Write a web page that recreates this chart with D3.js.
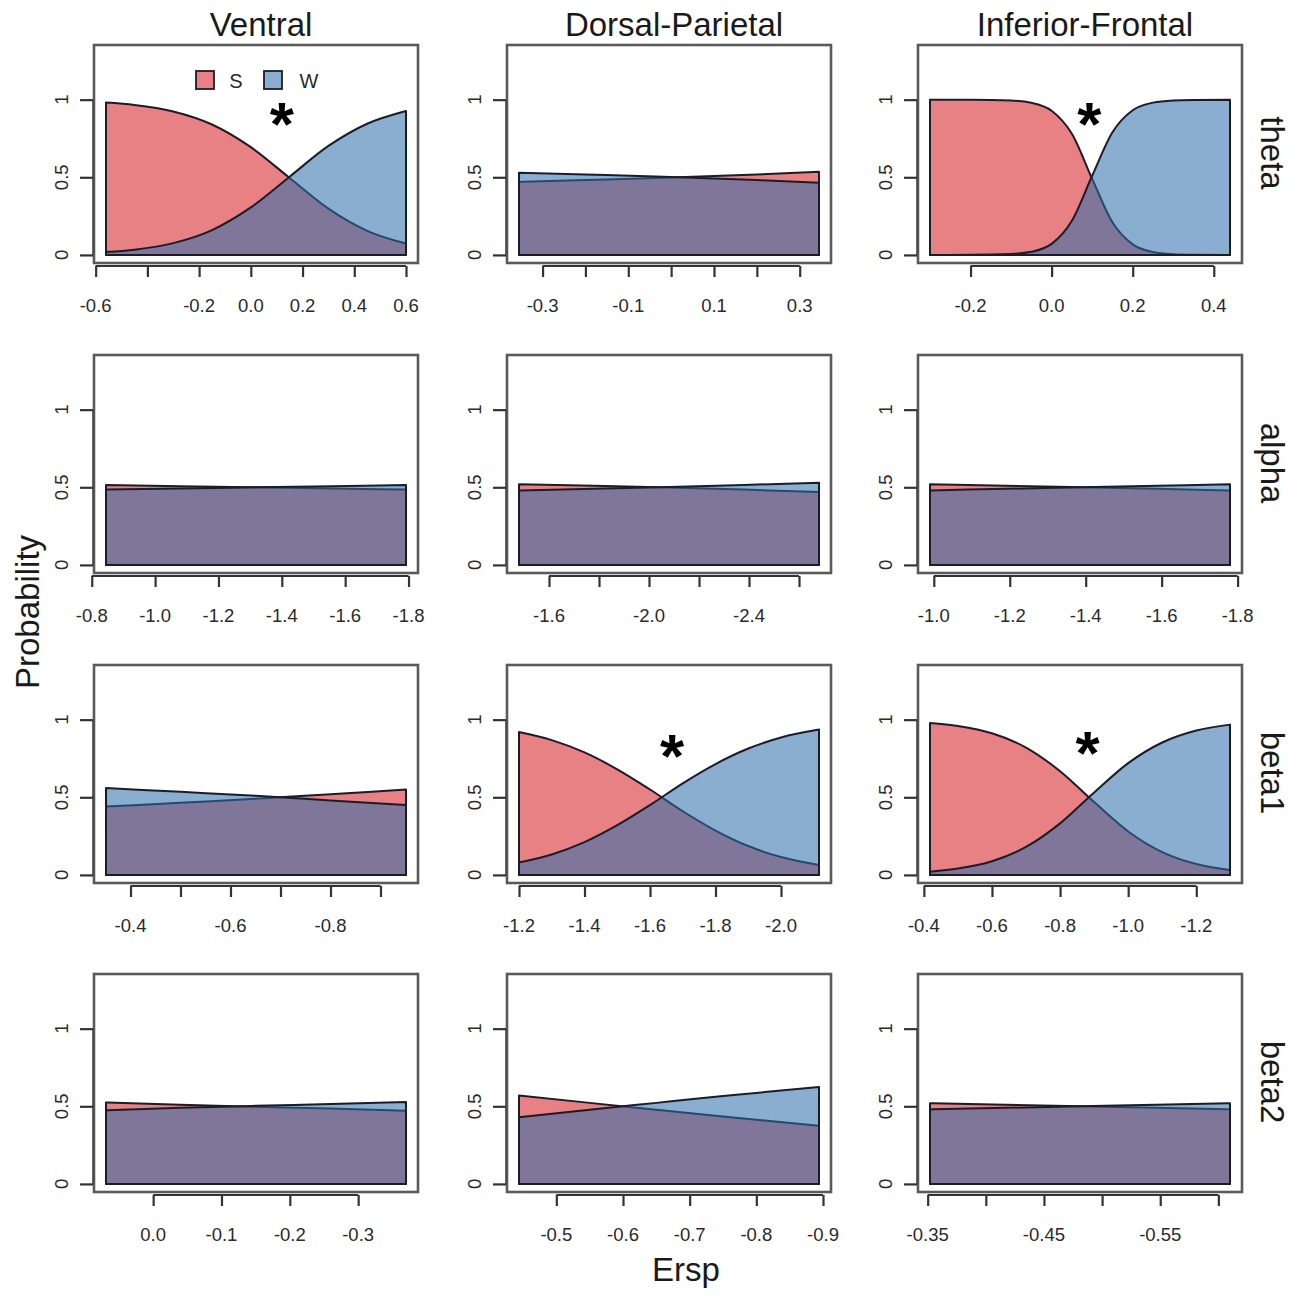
<!DOCTYPE html>
<html><head><meta charset="utf-8">
<script src="https://cdn.jsdelivr.net/npm/d3@7"></script>
<style>body{margin:0;background:#fff}svg{display:block}</style>
</head><body><svg id="c" width="1300" height="1299"></svg>
<script>
// ---- labels ----
const regions = ["Ventral", "Dorsal-Parietal", "Inferior-Frontal"];
const bands = ["theta", "alpha", "beta1", "beta2"];
const legendLabels = ["S", "W"];
const yTicks = [0, 0.5, 1];
const yTickLabels = ["0", "0.5", "1"];

// ---- theta row ----
const xVentralTheta = [-0.56, -0.45, -0.3, -0.15, 0.0, 0.15, 0.3, 0.45, 0.6];
const sVentralTheta = [0.981, 0.966, 0.924, 0.84, 0.694, 0.496, 0.298, 0.155, 0.073];
const wVentralTheta = [0.019, 0.034, 0.076, 0.16, 0.306, 0.504, 0.702, 0.845, 0.927];
const ticksVentralTheta = [-0.6, -0.4, -0.2, 0.0, 0.2, 0.4, 0.6];
const labelsVentralTheta = ["-0.6", "", "-0.2", "0.0", "0.2", "0.4", "0.6"];

const xDorsalTheta = [-0.355, -0.2, 0.0, 0.2, 0.345];
const sDorsalTheta = [0.47, 0.482, 0.498, 0.518, 0.535];
const wDorsalTheta = [0.53, 0.518, 0.502, 0.482, 0.465];
const ticksDorsalTheta = [-0.3, -0.2, -0.1, 0.0, 0.1, 0.2, 0.3];
const labelsDorsalTheta = ["-0.3", "", "-0.1", "", "0.1", "", "0.3"];

const xFrontalTheta = [-0.3, -0.2, -0.1, -0.05, 0.0, 0.05, 0.1, 0.15, 0.2, 0.25, 0.3, 0.35, 0.44];
const sFrontalTheta = [1.0, 0.9996, 0.994, 0.98, 0.929, 0.78, 0.49, 0.21, 0.068, 0.019, 0.005, 0.0015, 0.0001];
const wFrontalTheta = [0.0, 0.0004, 0.006, 0.02, 0.071, 0.22, 0.51, 0.79, 0.932, 0.981, 0.995, 0.9985, 0.9999];
const ticksFrontalTheta = [-0.2, 0.0, 0.2, 0.4];
const labelsFrontalTheta = ["-0.2", "0.0", "0.2", "0.4"];

// ---- alpha row ----
const xVentralAlpha = [-0.845, -1.08, -1.32, -1.56, -1.792];
const sVentralAlpha = [0.515, 0.507, 0.5, 0.493, 0.485];
const wVentralAlpha = [0.485, 0.493, 0.5, 0.507, 0.515];
const ticksVentralAlpha = [-0.8, -1.0, -1.2, -1.4, -1.6, -1.8];
const labelsVentralAlpha = ["-0.8", "-1.0", "-1.2", "-1.4", "-1.6", "-1.8"];

const xDorsalAlpha = [-1.48, -1.78, -2.08, -2.38, -2.68];
const sDorsalAlpha = [0.52, 0.51, 0.498, 0.485, 0.47];
const wDorsalAlpha = [0.48, 0.49, 0.502, 0.515, 0.53];
const ticksDorsalAlpha = [-1.6, -1.8, -2.0, -2.2, -2.4, -2.6];
const labelsDorsalAlpha = ["-1.6", "", "-2.0", "", "-2.4", ""];

const xFrontalAlpha = [-0.99, -1.19, -1.39, -1.59, -1.78];
const sFrontalAlpha = [0.52, 0.51, 0.5, 0.49, 0.48];
const wFrontalAlpha = [0.48, 0.49, 0.5, 0.51, 0.52];
const ticksFrontalAlpha = [-1.0, -1.2, -1.4, -1.6, -1.8];
const labelsFrontalAlpha = ["-1.0", "-1.2", "-1.4", "-1.6", "-1.8"];

// ---- beta1 row ----
const xVentralBeta1 = [-0.351, -0.5, -0.65, -0.8, -0.951];
const sVentralBeta1 = [0.44, 0.465, 0.49, 0.52, 0.55];
const wVentralBeta1 = [0.56, 0.535, 0.51, 0.48, 0.45];
const ticksVentralBeta1 = [-0.4, -0.5, -0.6, -0.7, -0.8, -0.9];
const labelsVentralBeta1 = ["-0.4", "", "-0.6", "", "-0.8", ""];

const xDorsalBeta1 = [-1.2, -1.3, -1.4, -1.5, -1.6, -1.7, -1.8, -1.9, -2.0, -2.116];
const sDorsalBeta1 = [0.92, 0.868, 0.789, 0.68, 0.55, 0.41, 0.286, 0.186, 0.115, 0.064];
const wDorsalBeta1 = [0.08, 0.132, 0.211, 0.32, 0.45, 0.59, 0.714, 0.814, 0.885, 0.936];
const ticksDorsalBeta1 = [-1.2, -1.4, -1.6, -1.8, -2.0];
const labelsDorsalBeta1 = ["-1.2", "-1.4", "-1.6", "-1.8", "-2.0"];

const xFrontalBeta1 = [-0.418, -0.5, -0.6, -0.7, -0.8, -0.9, -1.0, -1.1, -1.2, -1.299];
const sFrontalBeta1 = [0.979, 0.959, 0.912, 0.82, 0.668, 0.469, 0.28, 0.147, 0.07, 0.032];
const wFrontalBeta1 = [0.021, 0.041, 0.088, 0.18, 0.332, 0.531, 0.72, 0.853, 0.93, 0.968];
const ticksFrontalBeta1 = [-0.4, -0.6, -0.8, -1.0, -1.2];
const labelsFrontalBeta1 = ["-0.4", "-0.6", "-0.8", "-1.0", "-1.2"];

// ---- beta2 row ----
const xVentralBeta2 = [0.069, -0.04, -0.15, -0.26, -0.37];
const sVentralBeta2 = [0.525, 0.51, 0.497, 0.485, 0.472];
const wVentralBeta2 = [0.475, 0.49, 0.503, 0.515, 0.528];
const ticksVentralBeta2 = [0.0, -0.1, -0.2, -0.3];
const labelsVentralBeta2 = ["0.0", "-0.1", "-0.2", "-0.3"];

const xDorsalBeta2 = [-0.444, -0.55, -0.65, -0.75, -0.894];
const sDorsalBeta2 = [0.57, 0.522, 0.478, 0.434, 0.375];
const wDorsalBeta2 = [0.43, 0.478, 0.522, 0.566, 0.625];
const ticksDorsalBeta2 = [-0.5, -0.6, -0.7, -0.8, -0.9];
const labelsDorsalBeta2 = ["-0.5", "-0.6", "-0.7", "-0.8", "-0.9"];

const xFrontalBeta2 = [-0.352, -0.417, -0.481, -0.546, -0.61];
const sFrontalBeta2 = [0.52, 0.51, 0.5, 0.49, 0.48];
const wFrontalBeta2 = [0.48, 0.49, 0.5, 0.51, 0.52];
const ticksFrontalBeta2 = [-0.35, -0.40, -0.45, -0.50, -0.55, -0.60];
const labelsFrontalBeta2 = ["-0.35", "", "-0.45", "", "-0.55", ""];

// ---- significance markers ----
const starRow = [0, 0, 2, 2];
const starCol = [0, 2, 1, 2];
const starX = [0.12, 0.093, -1.667, -0.881];
const starY = [0.92, 0.92, 0.84, 0.86];

// assemble (row-major)
const panels = [
  [xVentralTheta, sVentralTheta, wVentralTheta, ticksVentralTheta, labelsVentralTheta],
  [xDorsalTheta, sDorsalTheta, wDorsalTheta, ticksDorsalTheta, labelsDorsalTheta],
  [xFrontalTheta, sFrontalTheta, wFrontalTheta, ticksFrontalTheta, labelsFrontalTheta],
  [xVentralAlpha, sVentralAlpha, wVentralAlpha, ticksVentralAlpha, labelsVentralAlpha],
  [xDorsalAlpha, sDorsalAlpha, wDorsalAlpha, ticksDorsalAlpha, labelsDorsalAlpha],
  [xFrontalAlpha, sFrontalAlpha, wFrontalAlpha, ticksFrontalAlpha, labelsFrontalAlpha],
  [xVentralBeta1, sVentralBeta1, wVentralBeta1, ticksVentralBeta1, labelsVentralBeta1],
  [xDorsalBeta1, sDorsalBeta1, wDorsalBeta1, ticksDorsalBeta1, labelsDorsalBeta1],
  [xFrontalBeta1, sFrontalBeta1, wFrontalBeta1, ticksFrontalBeta1, labelsFrontalBeta1],
  [xVentralBeta2, sVentralBeta2, wVentralBeta2, ticksVentralBeta2, labelsVentralBeta2],
  [xDorsalBeta2, sDorsalBeta2, wDorsalBeta2, ticksDorsalBeta2, labelsDorsalBeta2],
  [xFrontalBeta2, sFrontalBeta2, wFrontalBeta2, ticksFrontalBeta2, labelsFrontalBeta2]
];

// ---- layout / style ----
const colLeft = [94, 507, 918];
const rowTop = [45, 355, 665, 974];
const boxW = 324, boxH = 218;
const FONT = "'Liberation Sans', Arial, Helvetica, sans-serif";
const redFill = "rgb(214,30,36)", blueFill = "rgb(44,110,170)", fillOp = 0.56;
const edge = "#1c1c28";

const svg = d3.select("#c");
svg.append("rect").attr("width", 1300).attr("height", 1299).attr("fill", "#fff");

const scales = [];
panels.forEach((p, i) => {
  const r = Math.floor(i / 3), c = i % 3;
  const [xs, ss, ws, ticks, labs] = p;
  const L = colLeft[c], T = rowTop[r];
  const first = xs[0], last = xs[xs.length - 1], span = last - first;
  const x = d3.scaleLinear().domain([first - 0.04 * span, last + 0.04 * span]).range([L, L + boxW]);
  const y = d3.scaleLinear().domain([-0.052, 1.352]).range([T + boxH, T]);
  scales.push({x, y});
  const g = svg.append("g");
  const dataS = xs.map((v, k) => [v, ss[k]]);
  const dataW = xs.map((v, k) => [v, ws[k]]);
  const area = d3.area().x(d => x(d[0])).y0(y(0)).y1(d => y(d[1])).curve(d3.curveMonotoneX);
  g.append("path").attr("d", area(dataS)).attr("fill", redFill).attr("fill-opacity", fillOp)
    .attr("stroke", edge).attr("stroke-width", 2).attr("stroke-linejoin", "round");
  g.append("path").attr("d", area(dataW)).attr("fill", blueFill).attr("fill-opacity", fillOp)
    .attr("stroke", edge).attr("stroke-width", 2).attr("stroke-linejoin", "round");
  // box
  g.append("rect").attr("x", L).attr("y", T).attr("width", boxW).attr("height", boxH)
    .attr("fill", "none").attr("stroke", "#5a5a5a").attr("stroke-width", 2.6);
  // x axis
  const xa = svg.append("g").attr("transform", `translate(0,${T + boxH + 3})`)
    .call(d3.axisBottom(x).tickValues(ticks).tickSize(11).tickPadding(0).tickFormat(() => ""));
  xa.select(".domain").attr("d", `M${x(ticks[0])},0H${x(ticks[ticks.length - 1])}`)
    .attr("stroke", "#333").attr("stroke-width", 2.2);
  xa.selectAll(".tick line").attr("stroke", "#333").attr("stroke-width", 2.2);
  ticks.forEach((t, k) => {
    if (!labs[k]) return;
    svg.append("text").attr("x", x(t)).attr("y", T + boxH + 49).attr("text-anchor", "middle")
      .attr("font-family", FONT).attr("font-size", 18.5).attr("fill", "#2a2a2a").text(labs[k]);
  });
  // y axis
  const ya = svg.append("g").attr("transform", `translate(${L - 1},0)`)
    .call(d3.axisLeft(y).tickValues(yTicks).tickSize(13).tickFormat(() => ""));
  ya.select(".domain").attr("d", `M0,${y(0)}V${y(1)}`).attr("stroke", "#444").attr("stroke-width", 1.5);
  ya.selectAll(".tick line").attr("stroke", "#333").attr("stroke-width", 2.2);
  yTicks.forEach((t, k) => {
    svg.append("text").attr("transform", `translate(${L - 26},${y(t)}) rotate(-90)`)
      .attr("text-anchor", "middle").attr("font-family", FONT).attr("font-size", 18.5)
      .attr("fill", "#2a2a2a").text(yTickLabels[k]);
  });
});

// column titles
regions.forEach((t, c) => {
  svg.append("text").attr("x", colLeft[c] + boxW / 2 + 5).attr("y", 36).attr("text-anchor", "middle")
    .attr("font-family", FONT).attr("font-size", 33).attr("fill", "#1a1a1a").text(t);
});
// row labels
bands.forEach((t, r) => {
  svg.append("text").attr("transform", `translate(1261,${rowTop[r] + boxH / 2 - 1}) rotate(90)`)
    .attr("text-anchor", "middle").attr("font-family", FONT).attr("font-size", 33)
    .attr("fill", "#1a1a1a").text(t);
});
// axis titles
svg.append("text").attr("transform", "translate(39,612) rotate(-90)").attr("text-anchor", "middle")
  .attr("font-family", FONT).attr("font-size", 33).attr("fill", "#1a1a1a").text("Probability");
svg.append("text").attr("x", 686).attr("y", 1281).attr("text-anchor", "middle")
  .attr("font-family", FONT).attr("font-size", 33).attr("fill", "#1a1a1a").text("Ersp");

// stars
starRow.forEach((r, k) => {
  const s = scales[r * 3 + starCol[k]];
  svg.append("text").attr("x", s.x(starX[k])).attr("y", s.y(starY[k]) + 33)
    .attr("text-anchor", "middle").attr("font-family", FONT).attr("font-size", 62)
    .attr("font-weight", "bold").attr("fill", "#000").text("*");
});

// legend
const legX = [196, 264];
const legTX = [236, 309];
const legFill = [redFill, blueFill];
legendLabels.forEach((t, k) => {
  svg.append("rect").attr("x", legX[k]).attr("y", 71).attr("width", 18).attr("height", 18)
    .attr("fill", legFill[k]).attr("fill-opacity", fillOp).attr("stroke", edge).attr("stroke-width", 1.8);
  svg.append("text").attr("x", legTX[k]).attr("y", 88).attr("text-anchor", "middle")
    .attr("font-family", FONT).attr("font-size", 20).attr("fill", "#2a2a2a").text(t);
});
</script></body></html>
